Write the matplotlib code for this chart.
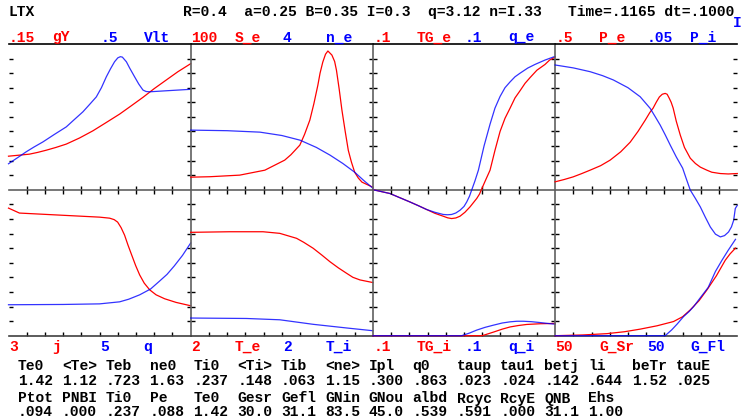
import matplotlib
matplotlib.use('Agg')
import matplotlib.pyplot as plt

W, H = 742, 418

# profile values, as a fraction of each panel's full scale, vs normalised radius
gY_x = [0.0, 0.05, 0.115, 0.16, 0.207, 0.26, 0.317, 0.39, 0.463, 0.535, 0.610,
        0.675, 0.738, 0.80, 0.866, 0.93, 1.0]
gY = [0.230, 0.236, 0.244, 0.256, 0.271, 0.290, 0.313, 0.355, 0.404, 0.460, 0.519,
      0.577, 0.634, 0.694, 0.753, 0.810, 0.865]
Vlt_x = [0.0, 0.05, 0.097, 0.14, 0.189, 0.25, 0.317, 0.36, 0.408, 0.445, 0.482,
         0.51, 0.537, 0.56, 0.582, 0.600, 0.614, 0.625, 0.647, 0.665, 0.692,
         0.715, 0.738, 0.755, 0.775, 0.866, 1.0]
Vlt = [0.178, 0.220, 0.260, 0.293, 0.328, 0.378, 0.431, 0.480, 0.534, 0.585, 0.637,
       0.700, 0.775, 0.830, 0.878, 0.905, 0.913, 0.910, 0.878, 0.835, 0.775,
       0.725, 0.684, 0.674, 0.672, 0.679, 0.689]
j_x = [0.0, 0.06, 0.28, 0.50, 0.555, 0.58, 0.599, 0.618, 0.637, 0.656, 0.676,
       0.698, 0.720, 0.745, 0.775, 0.81, 0.857, 0.92, 1.0]
j = [0.874, 0.840, 0.826, 0.812, 0.805, 0.795, 0.778, 0.740, 0.689, 0.620, 0.553,
     0.480, 0.416, 0.360, 0.314, 0.280, 0.253, 0.228, 0.205]
q_x = [0.0, 0.3, 0.5, 0.61, 0.66, 0.72, 0.78, 0.83, 0.87, 0.91, 0.955, 1.0]
q = [0.212, 0.214, 0.218, 0.232, 0.250, 0.280, 0.320, 0.375, 0.420, 0.478, 0.550, 0.635]

S_e_x = [0.0, 0.104, 0.269, 0.407, 0.516, 0.55, 0.599, 0.625, 0.654, 0.676, 0.698,
         0.71, 0.725, 0.74, 0.753, 0.775, 0.79, 0.80, 0.815, 0.83, 0.848, 0.865,
         0.882, 0.90, 0.92, 0.94, 0.96, 1.0]
S_e = [0.086, 0.089, 0.100, 0.134, 0.203, 0.240, 0.306, 0.380, 0.478, 0.590, 0.718,
       0.800, 0.876, 0.930, 0.952, 0.924, 0.880, 0.820, 0.690, 0.546, 0.400, 0.270,
       0.190, 0.120, 0.080, 0.052, 0.040, 0.017]
n_e_x = [0.0, 0.2, 0.38, 0.5, 0.60, 0.69, 0.765, 0.835, 0.90, 0.95, 1.0]
n_e = [0.409, 0.405, 0.395, 0.372, 0.340, 0.290, 0.237, 0.180, 0.120, 0.063, 0.010]
T_e_x = [0.0, 0.214, 0.397, 0.489, 0.581, 0.62, 0.672, 0.72, 0.764, 0.81, 0.855,
         0.89, 0.929, 1.0]
T_e = [0.708, 0.712, 0.712, 0.701, 0.667, 0.640, 0.599, 0.552, 0.507, 0.465, 0.428,
       0.400, 0.382, 0.364]
T_i_x = [0.0, 0.306, 0.489, 0.672, 0.855, 1.0]
T_i = [0.121, 0.118, 0.109, 0.078, 0.053, 0.034]

TG_e_x = [0.0, 0.093, 0.203, 0.25, 0.295, 0.34, 0.386, 0.41, 0.432, 0.455, 0.478,
          0.505, 0.533, 0.570, 0.585, 0.598, 0.62, 0.643, 0.67, 0.698, 0.725,
          0.753, 0.78, 0.808, 0.835, 0.863, 0.90, 0.945, 0.97, 1.0]
TG_e = [0.0, -0.026, -0.084, -0.110, -0.136, -0.162, -0.182, -0.193, -0.198, -0.194,
        -0.182, -0.155, -0.118, -0.060, -0.030, 0.008, 0.070, 0.134, 0.270,
        0.400, 0.490, 0.560, 0.630, 0.680, 0.730, 0.770, 0.820, 0.860, 0.890, 0.910]
q_e_x = [0.0, 0.093, 0.203, 0.25, 0.295, 0.34, 0.386, 0.41, 0.432, 0.455, 0.478,
         0.50, 0.515, 0.53, 0.542, 0.56, 0.579, 0.61, 0.643, 0.67, 0.698, 0.725,
         0.753, 0.78, 0.808, 0.85, 0.890, 0.945, 1.0]
q_e = [0.0, -0.026, -0.084, -0.110, -0.136, -0.155, -0.170, -0.172, -0.170, -0.160,
       -0.141, -0.115, -0.084, -0.045, -0.003, 0.060, 0.134, 0.300, 0.450, 0.560,
       0.640, 0.700, 0.740, 0.775, 0.800, 0.835, 0.860, 0.890, 0.915]
TG_i_x = [0.0, 0.60, 0.63, 0.665, 0.71, 0.753, 0.80, 0.844, 0.92, 1.0]
TG_i = [0.0, 0.0, 0.012, 0.026, 0.045, 0.060, 0.070, 0.077, 0.082, 0.084]
q_i_x = [0.0, 0.487, 0.53, 0.569, 0.615, 0.661, 0.71, 0.753, 0.79, 0.826, 0.87,
         0.918, 0.96, 1.0]
q_i = [0.0, 0.0, 0.018, 0.038, 0.057, 0.072, 0.087, 0.095, 0.099, 0.099, 0.096,
       0.090, 0.084, 0.079]

P_e_x = [0.0, 0.05, 0.099, 0.145, 0.192, 0.25, 0.302, 0.36, 0.412, 0.455, 0.495,
         0.52, 0.538, 0.555, 0.572, 0.588, 0.604, 0.615, 0.626, 0.637, 0.648,
         0.665, 0.687, 0.71, 0.742, 0.77, 0.797, 0.833, 0.86, 0.906, 0.95, 1.0]
P_e = [0.054, 0.070, 0.088, 0.110, 0.134, 0.165, 0.203, 0.260, 0.326, 0.400, 0.478,
       0.530, 0.560, 0.600, 0.636, 0.655, 0.661, 0.655, 0.629, 0.600, 0.560,
       0.470, 0.375, 0.290, 0.216, 0.180, 0.155, 0.134, 0.120, 0.111, 0.108, 0.111]
P_i_x = [0.0, 0.1, 0.192, 0.26, 0.320, 0.40, 0.467, 0.522, 0.55, 0.577, 0.605,
         0.632, 0.665, 0.700, 0.72, 0.742, 0.77, 0.797, 0.825, 0.852, 0.88, 0.907,
         0.93, 0.952, 0.968, 0.980, 0.989, 1.0]
P_i = [0.856, 0.836, 0.810, 0.783, 0.753, 0.700, 0.638, 0.558, 0.500, 0.443, 0.375,
       0.306, 0.225, 0.148, 0.075, -0.003, -0.060, -0.118, -0.190, -0.256, -0.305,
       -0.324, -0.315, -0.290, -0.255, -0.210, -0.129, -0.107]
G_Sr_x = [0.0, 0.15, 0.284, 0.38, 0.467, 0.56, 0.650, 0.70, 0.742, 0.79, 0.833,
          0.885, 0.934, 0.96, 0.99]
G_Sr = [0.0, 0.005, 0.014, 0.027, 0.045, 0.068, 0.097, 0.130, 0.177, 0.240, 0.313,
        0.410, 0.517, 0.560, 0.600]
G_Fl_x = [0.0, 0.604, 0.64, 0.67, 0.705, 0.735, 0.760, 0.80, 0.84, 0.88, 0.916,
          0.95, 0.99]
G_Fl = [0.0, 0.0, 0.040, 0.080, 0.131, 0.165, 0.199, 0.265, 0.330, 0.440, 0.517,
        0.585, 0.660]

top_curves = [((gY_x, gY), (Vlt_x, Vlt)), ((S_e_x, S_e), (n_e_x, n_e)),
              ((TG_e_x, TG_e), (q_e_x, q_e)), ((P_e_x, P_e), (P_i_x, P_i))]
bot_curves = [((j_x, j), (q_x, q)), ((T_e_x, T_e), (T_i_x, T_i)),
              ((TG_i_x, TG_i), (q_i_x, q_i)), ((G_Sr_x, G_Sr), (G_Fl_x, G_Fl))]

top_labels = [('.15', 'gY', '.5', 'Vlt'), ('100', 'S_e', '4', 'n_e'),
              ('.1', 'TG_e', '.1', 'q_e'), ('.5', 'P_e', '.05', 'P_i')]
bot_labels = [('3', 'j', '5', 'q'), ('2', 'T_e', '2', 'T_i'),
              ('.1', 'TG_i', '.1', 'q_i'), ('50', 'G_Sr', '50', 'G_Fl')]

row1_names = ['Te0', '<Te>', 'Teb', 'ne0', 'Ti0', '<Ti>', 'Tib', '<ne>',
              'Ipl', 'q0', 'taup', 'tau1', 'betj', 'li', 'beTr', 'tauE']
row1_vals = ['1.42', '1.12', '.723', '1.63', '.237', '.148', '.063', '1.15',
             '.300', '.863', '.023', '.024', '.142', '.644', '1.52', '.025']
row2_names = ['Ptot', 'PNBI', 'Ti0', 'Pe', 'Te0', 'Gesr', 'Gefl', 'GNin',
              'GNou', 'albd', 'Rcyc', 'RcyE', 'QNB', 'Ehs']
row2_vals = ['.094', '.000', '.237', '.088', '1.42', '30.0', '31.1', '83.5',
             '45.0', '.539', '.591', '.000', '31.1', '1.00']

header = 'R=0.4  a=0.25 B=0.35 I=0.3  q=3.12 n=I.33   Time=.1165 dt=.1000'

RED = '#ff0000'
BLUE = '#0000ff'
GREY = '#606060'

fig = plt.figure(figsize=(W / 100, H / 100), dpi=100)
fig.patch.set_facecolor('white')


def put(px, py, s, color='black'):
    fig.text(px / W, 1 - py / H, s, color=color, fontsize=10.5,
             family='Liberation Mono', weight='bold', va='baseline', ha='left')


col_left = [8.5, 190.7, 372.9, 555.1]
col_w = 182.2
rows = [(44.0, 189.7), (189.7, 335.7)]
ticks = [i / 10 for i in range(1, 10)]

for r, (y0, y1) in enumerate(rows):
    for c, x0 in enumerate(col_left):
        ax = fig.add_axes([x0 / W, 1 - y1 / H, col_w / W, (y1 - y0) / H])
        ax.patch.set_visible(False)
        ax.set_xlim(0, 1)
        ax.set_ylim(0, 1)
        for s in ax.spines.values():
            s.set_linewidth(1.2)
        ax.spines['right'].set_visible(False)
        ax.spines['left'].set_visible(c > 0)
        ax.spines['left'].set_color(GREY)
        if r == 0:
            ax.spines['top'].set_color('black')
            ax.spines['bottom'].set_color(GREY)
        else:
            ax.spines['top'].set_visible(False)
            ax.spines['bottom'].set_color('#404040')
        ax.set_xticks(ticks)
        ax.set_yticks(ticks)
        ax.tick_params(direction='in', length=3.2, width=1.0, color='black',
                       labelbottom=False, labelleft=False,
                       bottom=True, top=(r == 1), left=True, right=True)

        curves = top_curves[c] if r == 0 else bot_curves[c]
        (rx, ry), (bx, by) = curves
        ax.plot(rx, ry, color=RED, lw=0.9, clip_on=False, zorder=3)
        ax.plot(bx, by, color=BLUE, lw=0.9, clip_on=False, zorder=3, alpha=0.8)

        labels = top_labels[c] if r == 0 else bot_labels[c]
        ly = 41.5 if r == 0 else 351.0
        for k, (off, col) in enumerate(zip([0.5, 44, 92, 135], [RED, RED, BLUE, BLUE])):
            put(x0 + off, ly, labels[k], col)

put(8, 16, 'LTX')
put(183, 16, header)
put(733, 27, 'I', BLUE)

for i, (n, v) in enumerate(zip(row1_names, row1_vals)):
    put(18 + i * 43.85, 370, n)
    put(18 + i * 43.85, 385, v)
for i, (n, v) in enumerate(zip(row2_names, row2_vals)):
    put(18 + i * 43.85, 402.5, n)
    put(18 + i * 43.85, 416.5, v)

fig.savefig('out.png', dpi=100)
